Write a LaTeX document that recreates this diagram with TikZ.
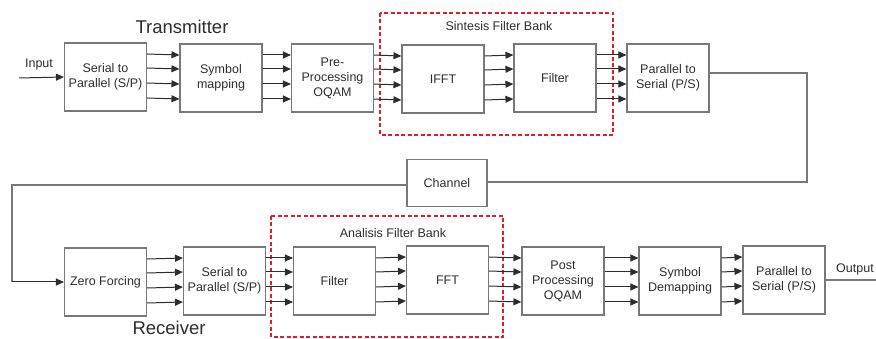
\documentclass[tikz,border=0pt]{standalone}
\usepackage{fontspec}
\setmainfont{Liberation Sans}
\usetikzlibrary{arrows.meta}
\definecolor{boxgray}{RGB}{120,120,120}
\definecolor{txtgray}{RGB}{45,45,45}
\definecolor{bankred}{RGB}{225,30,40}
\begin{document}
\begin{tikzpicture}[x=1pt,y=-1pt,
  blk/.style={draw=boxgray,line width=1.1pt,minimum width=82pt,minimum height=68pt,
    inner sep=1pt,align=center,text=txtgray,font=\fontsize{12.5}{15}\selectfont},
  chan/.style={blk,minimum width=80pt,minimum height=47pt},
  arr/.style={draw=txtgray,line width=1pt,-{Triangle[length=8pt,width=7pt]}},
  wire/.style={draw=boxgray,line width=1.1pt},
  bank/.style={draw=bankred,line width=1.8pt,dash pattern=on 4pt off 2.5pt},
  lbl/.style={text=txtgray,font=\fontsize{12.5}{15}\selectfont,inner sep=0pt},
  ttl/.style={text=txtgray,font=\fontsize{18.5}{22}\selectfont,inner sep=0pt}]
\useasboundingbox (0,0) rectangle (876,339);

% filter bank frames
\draw[bank] (380,13) rectangle (613,135);
\draw[bank] (271,216) rectangle (503,337);
\node[lbl] (sfb) at (499,26) {Sintesis Filter Bank};
\node[lbl] (afb) at (393,233) {Analisis Filter Bank};

% titles
\node[ttl] (tx) at (182,27) {Transmitter};
\node[ttl] (rx) at (169,328) {Receiver};

% transmitter chain
\node[blk] (sp1)   at (105.5,77) {Serial to\\Parallel (S/P)};
\node[blk] (map)   at (221,78)   {Symbol\\mapping};
\node[blk] (pre)   at (332.5,78) {Pre-\\Processing\\OQAM};
\node[blk] (ifft)  at (443,79)   {IFFT};
\node[blk] (filt1) at (555,78)   {Filter};
\node[blk] (ps1)   at (668,78)   {Parallel to\\Serial (P/S)};

% channel
\node[chan] (ch) at (447,183) {Channel};

% receiver chain
\node[blk] (zf)    at (105.5,282) {Zero Forcing};
\node[blk] (sp2)   at (224.5,281) {Serial to\\Parallel (S/P)};
\node[blk] (filt2) at (334.5,281) {Filter};
\node[blk] (fft)   at (447.5,280) {FFT};
\node[blk] (post)  at (563,281)   {Post\\Processing\\OQAM};
\node[blk] (demap) at (680,281)   {Symbol\\Demapping};
\node[blk] (ps2)   at (784,280)   {Parallel to\\Serial (P/S)};

% parallel links between blocks
\foreach \a/\b in {sp1/map,map/pre,pre/ifft,ifft/filt1,filt1/ps1,
                   zf/sp2,sp2/filt2,filt2/fft,fft/post,post/demap,demap/ps2}
  \foreach \d in {23,9,-6,-21}
    \draw[arr] ([yshift=\d pt]\a.east) -- ([yshift=\d pt]\b.west);

% input and output
\coordinate (in) at (19,78);
\node[lbl] (inl) at (39,64) {Input};
\draw[arr] (in) -- (sp1.west);
\coordinate (out) at (876,280);
\node[lbl] (outl) at (855,269) {Output};
\draw[wire] (ps2.east) -- (out);

% serial link through the channel
\coordinate (r1) at (807,73);
\coordinate (r2) at (807,182);
\coordinate (l1) at (12,185);
\coordinate (l2) at (12,282);
\draw[wire] ([yshift=5pt]ps1.east) -- (r1) -- (r2) -- (ch.east |- r2);
\draw[wire] (ch.west |- l1) -- (l1) -- (l2);
\draw[arr] (l2) -- (zf.west);
\end{tikzpicture}
\end{document}
